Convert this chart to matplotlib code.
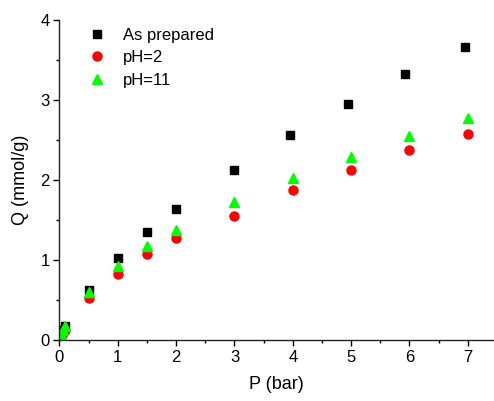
import matplotlib
matplotlib.use('Agg')
import matplotlib.pyplot as plt
from matplotlib.ticker import MultipleLocator

plt.rcParams['font.family'] = ['Liberation Sans', 'DejaVu Sans']

# Adsorption data
p_prep = [0.01, 0.03, 0.06, 0.1, 0.5, 1.0, 1.5, 2.0, 3.0, 3.96, 4.95, 5.93, 6.95]
q_prep = [0.03, 0.08, 0.12, 0.17, 0.62, 1.03, 1.35, 1.64, 2.13, 2.56, 2.95, 3.32, 3.66]

p_ph2 = [0.01, 0.03, 0.06, 0.1, 0.5, 1.0, 1.5, 2.0, 3.0, 4.0, 5.0, 6.0, 7.0]
q_ph2 = [0.02, 0.05, 0.09, 0.13, 0.53, 0.83, 1.07, 1.27, 1.55, 1.88, 2.13, 2.38, 2.58]

p_ph11 = [0.01, 0.03, 0.06, 0.1, 0.5, 1.0, 1.5, 2.0, 3.0, 4.0, 5.0, 6.0, 7.0]
q_ph11 = [0.04, 0.08, 0.12, 0.17, 0.60, 0.92, 1.17, 1.38, 1.73, 2.02, 2.29, 2.55, 2.77]

fig = plt.figure(figsize=(4.94, 4.01), dpi=100)
ax = fig.add_axes([0.1204, 0.152, 0.8796, 0.798])

ax.plot(p_prep, q_prep, 's', color='black', markersize=6, label='As prepared')
ax.plot(p_ph2, q_ph2, 'o', color='#ff0000', markersize=6.5, label='pH=2')
ax.plot(p_ph11, q_ph11, '^', color='#00ff00', markersize=7, label='pH=11')

ax.set_xlim(0, 7.45)
ax.set_ylim(0, 4)
ax.xaxis.set_major_locator(MultipleLocator(1))
ax.xaxis.set_minor_locator(MultipleLocator(0.5))
ax.yaxis.set_major_locator(MultipleLocator(1))
ax.yaxis.set_minor_locator(MultipleLocator(0.5))

ax.spines['top'].set_visible(False)
ax.spines['right'].set_visible(False)
for s in ['left', 'bottom']:
    ax.spines[s].set_linewidth(1.0)
    ax.spines[s].set_color('#222222')

ax.tick_params(which='major', direction='out', length=4, width=1, labelsize=12, pad=3)
ax.tick_params(which='minor', direction='out', length=2.5, width=1)

ax.set_xlabel('P (bar)', fontsize=13, labelpad=8)
ax.set_ylabel('Q (mmol/g)', fontsize=13, labelpad=8)

ax.legend(loc='upper left', bbox_to_anchor=(0.02, 1.013), frameon=False,
          fontsize=12, handletextpad=0.6, labelspacing=0.45, borderaxespad=0.3)

fig.savefig('out.png', dpi=100)
